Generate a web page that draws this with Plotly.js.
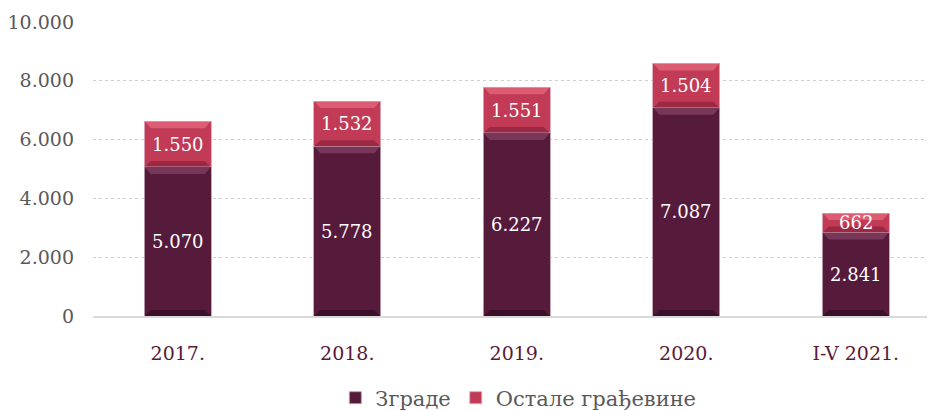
<!DOCTYPE html>
<html>
<head>
<meta charset="utf-8">
<script src="https://cdn.plot.ly/plotly-3.0.1.min.js"></script>
<style>html,body{margin:0;padding:0;background:#fff;}#chart{width:929px;height:410px;}</style>
</head>
<body>
<div id="chart"></div>
<script>
var categories = ['2017.', '2018.', '2019.', '2020.', 'I-V 2021.'];
var zgrade = [5070, 5778, 6227, 7087, 2841];
var ostale = [1550, 1532, 1551, 1504, 662];
var seriesNames = ['Зграде', 'Остале грађевине'];
var yTicks = [0, 2000, 4000, 6000, 8000, 10000];

var FONT = '"DejaVu Serif", "Liberation Serif", serif';

function fmt(n) { return String(n).replace(/\B(?=(\d{3})+(?!\d))/g, '.'); }

var t1 = {
  type: 'bar', x: categories, y: zgrade, name: seriesNames[0],
  marker: {color: '#561a3b', line: {color: 'rgba(190,160,175,0.9)', width: 1}},
  hoverinfo: 'skip'
};
var t2 = {
  type: 'bar', x: categories, y: ostale, name: seriesNames[1],
  marker: {color: '#c13a56', line: {color: 'rgba(220,170,185,0.9)', width: 1}},
  hoverinfo: 'skip'
};

// bevel decoration shapes, anchored at each segment's top/bottom (pixel-sized)
var shapes = [];
function bevel(xi, yTop, yBot, light, dark) {
  shapes.push({type: 'path', xref: 'x', yref: 'y', xsizemode: 'pixel', ysizemode: 'pixel',
    xanchor: xi, yanchor: yTop, path: 'M-33,0 L33,0 L27,-7 L-27,-7 Z',
    fillcolor: light, line: {width: 0}, layer: 'above'});
  shapes.push({type: 'path', xref: 'x', yref: 'y', xsizemode: 'pixel', ysizemode: 'pixel',
    xanchor: xi, yanchor: yBot, path: 'M-33,0 L33,0 L27,6 L-27,6 Z',
    fillcolor: dark, line: {width: 0}, layer: 'above'});
}
var annotations = [];
for (var i = 0; i < categories.length; i++) {
  bevel(i, zgrade[i], 0, 'rgba(150,80,115,0.55)', 'rgba(30,5,20,0.45)');
  bevel(i, zgrade[i] + ostale[i], zgrade[i], 'rgba(240,120,140,0.55)', 'rgba(110,20,45,0.45)');
  annotations.push({xref: 'x', yref: 'y', x: i, y: zgrade[i] / 2, text: fmt(zgrade[i]),
    showarrow: false, font: {family: FONT, size: 18, color: '#ffffff'}});
  annotations.push({xref: 'x', yref: 'y', x: i, y: zgrade[i] + ostale[i] / 2, text: fmt(ostale[i]),
    showarrow: false, font: {family: FONT, size: 18, color: '#ffffff'}});
}

var layout = {
  width: 929, height: 410,
  margin: {l: 93, r: 2, t: 22, b: 94, autoexpand: false},
  barmode: 'stack',
  bargap: 0.605,
  separators: ',.',
  paper_bgcolor: '#ffffff', plot_bgcolor: '#ffffff',
  font: {family: FONT, size: 18, color: '#595959'},
  xaxis: {
    type: 'category', range: [-0.5, 4.42], automargin: false,
    showgrid: false, showline: true, linecolor: '#d9d9d9', linewidth: 1.5,
    ticks: '', ticklabelstandoff: 20,
    tickfont: {family: FONT, size: 19, color: '#5a1a3a'},
    zeroline: false
  },
  yaxis: {
    range: [0, 10000], tickvals: yTicks, tickformat: ',', automargin: false,
    showgrid: true, gridcolor: '#d0d0d0', griddash: 'dot', gridwidth: 1,
    zeroline: false, showline: false, ticks: '', ticklabelstandoff: 18,
    tickfont: {family: FONT, size: 19, color: '#595959'}
  },
  legend: {
    orientation: 'h', x: 0.51, xanchor: 'center', y: -0.279, yanchor: 'middle',
    font: {family: FONT, size: 21, color: '#595959'},
    itemwidth: 30, traceorder: 'normal'
  },
  shapes: shapes,
  annotations: annotations,
  showlegend: true
};

Plotly.newPlot('chart', [t1, t2], layout, {displayModeBar: false, staticPlot: true});
</script>
</body>
</html>
